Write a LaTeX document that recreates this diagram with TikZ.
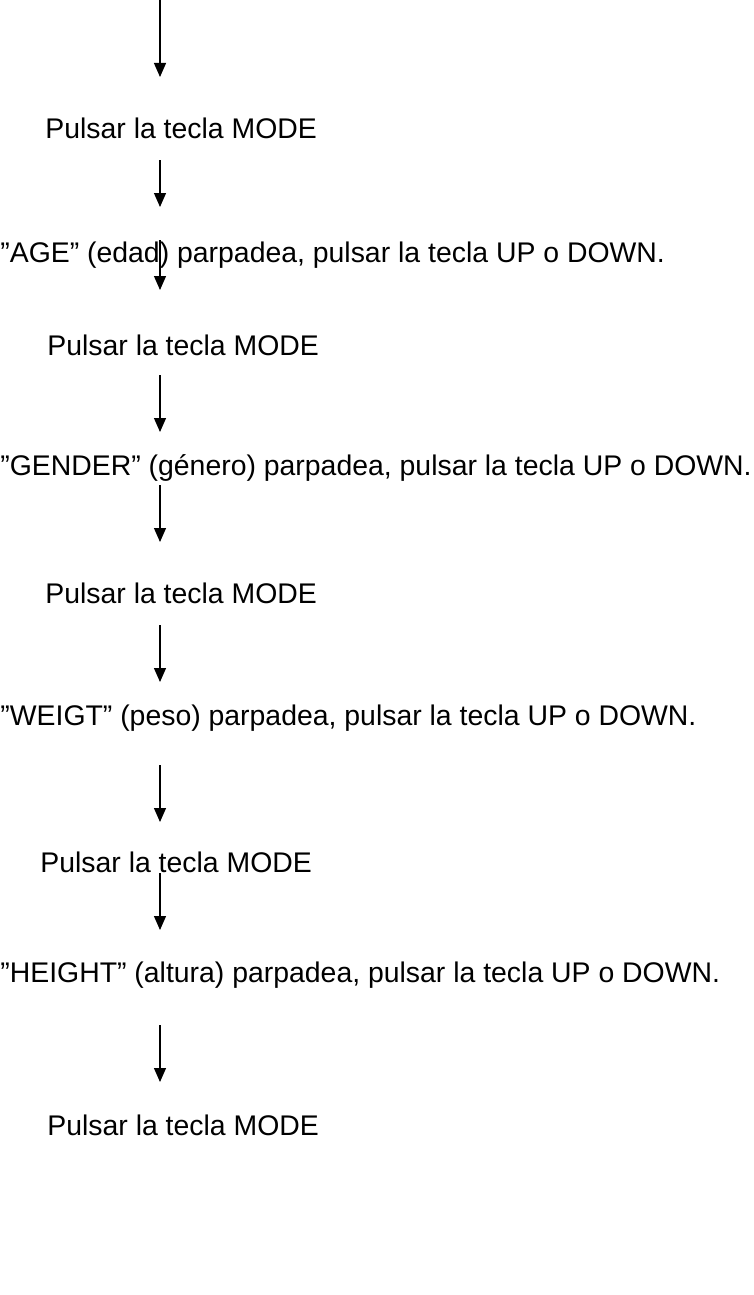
\documentclass[tikz,border=0pt]{standalone}
\usepackage{fontspec}
\setmainfont{Liberation Sans}
\usetikzlibrary{arrows.meta}
\newcommand{\dq}{\symbol{34}}

\begin{document}
\begin{tikzpicture}[x=0.5pt, y=-0.5pt,
  step text/.style={anchor=west, inner sep=0pt, font=\fontsize{14.2}{16}\selectfont},
  flow/.style={-{Triangle[length=7pt,width=6pt]}, line width=0.6pt}]
\useasboundingbox (0,0) rectangle (754,1295);

\node[step text] (m1) at (45,128) {Pulsar la tecla MODE};
\node[step text] (age) at (0,255) {\dq AGE\dq{} (edad) parpadea, pulsar la tecla UP o DOWN.};
\node[step text] (m2) at (47,345) {Pulsar la tecla MODE};
\node[step text] (gen) at (0,468) {\dq GENDER\dq{} (género) parpadea, pulsar la tecla UP o DOWN.};
\node[step text] (m3) at (45,593) {Pulsar la tecla MODE};
\node[step text] (wei) at (0,718) {\dq WEIGT\dq{} (peso) parpadea, pulsar la tecla UP o DOWN.};
\node[step text] (m4) at (40,862) {Pulsar la tecla MODE};
\node[step text] (hei) at (0,975) {\dq HEIGHT\dq{} (altura) parpadea, pulsar la tecla UP o DOWN.};
\node[step text] (m5) at (47,1125) {Pulsar la tecla MODE};

% arrows between steps
\foreach \ya/\yb in {0/77, 160/207, 240/290, 375/432, 485/542, 625/682, 765/822, 873/930, 1025/1082}
  \draw[flow] (160,\ya) coordinate (a\ya) -- (160,\yb) coordinate (b\ya);
\end{tikzpicture}
\end{document}
